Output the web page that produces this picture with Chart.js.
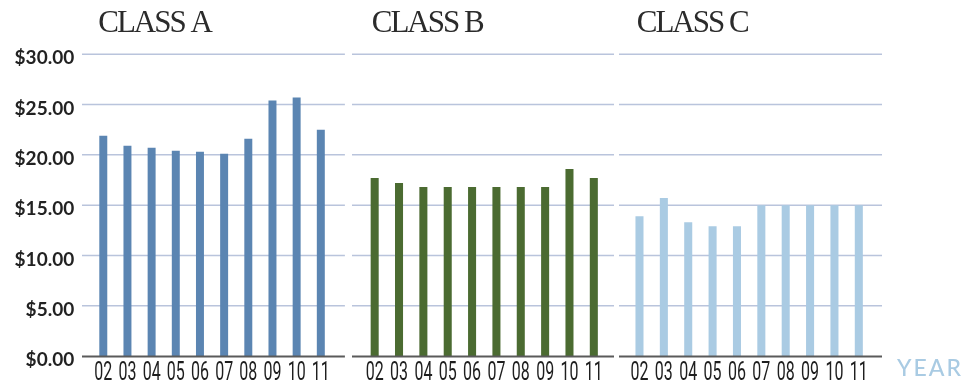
<!DOCTYPE html>
<html>
<head>
<meta charset="utf-8">
<script src="https://cdn.jsdelivr.net/npm/chart.js@4/dist/chart.umd.min.js"></script>
<style>
  html, body { margin: 0; padding: 0; background: #ffffff; }
  #wrap { position: relative; width: 965px; height: 385px; overflow: hidden; }
  #wrap canvas { position: absolute; top: 0; }
</style>
</head>
<body>
<div id="wrap">
  <canvas id="panelA" width="350" height="385" style="left:0px"></canvas>
  <canvas id="panelB" width="272" height="385" style="left:348px"></canvas>
  <canvas id="panelC" width="349" height="385" style="left:616px"></canvas>
</div>
<script>
// Average price per year, by class
const years = ['02', '03', '04', '05', '06', '07', '08', '09', '10', '11'];
const classA = [21.9, 20.9, 20.7, 20.4, 20.3, 20.1, 21.6, 25.4, 25.7, 22.5];
const classB = [17.7, 17.2, 16.8, 16.8, 16.8, 16.8, 16.8, 16.8, 18.6, 17.7];
const classC = [13.9, 15.7, 13.3, 12.9, 12.9, 15.0, 15.0, 15.0, 15.0, 15.0];
const priceTicks = [0, 5, 10, 15, 20, 25, 30];
const panelTitles = ['CLASS A', 'CLASS B', 'CLASS C'];
const xAxisCaption = 'YEAR';

// Horizontal rules reach a little past the bars on each side
const panelGrid = {
  id: 'panelGrid',
  beforeDatasetsDraw(chart, args, opts) {
    const { ctx, chartArea: a, scales: { y } } = chart;
    const x0 = a.left - opts.extendLeft, x1 = a.right + opts.extendRight;
    ctx.save();
    ctx.lineWidth = 1.5;
    ctx.strokeStyle = '#b9c4dc';
    priceTicks.forEach(v => {
      if (v === 0) return;
      const py = y.getPixelForValue(v);
      ctx.beginPath(); ctx.moveTo(x0, py); ctx.lineTo(x1, py); ctx.stroke();
    });
    ctx.restore();
  },
  afterDatasetsDraw(chart, args, opts) {
    const { ctx, chartArea: a, scales: { y } } = chart;
    const py = y.getPixelForValue(0) + 0.5;
    ctx.save();
    ctx.lineWidth = 2;
    ctx.strokeStyle = '#5a5a5a';
    ctx.beginPath();
    ctx.moveTo(a.left - opts.extendLeft, py);
    ctx.lineTo(a.right + opts.extendRight, py);
    ctx.stroke();
    ctx.restore();
  }
};

// Year labels set in a narrow face, centred under each bar
const yearLabels = {
  id: 'yearLabels',
  afterDraw(chart) {
    const { ctx, chartArea: a, scales: { x } } = chart;
    ctx.save();
    ctx.fillStyle = '#1e1e1e';
    ctx.font = '25px Roboto, "DejaVu Sans", sans-serif';
    ctx.textAlign = 'center';
    ctx.textBaseline = 'alphabetic';
    x.ticks.forEach((t, i) => {
      const px = x.getPixelForTick(i);
      ctx.save();
      ctx.translate(px, a.bottom + 23.5);
      ctx.scale(0.64, 1);
      ctx.fillText(x.getLabelForValue(t.value), 0, 0);
      ctx.restore();
    });
    ctx.restore();
  }
};

// Panel heading above the plot, plus the optional axis caption
const panelTitle = {
  id: 'panelTitle',
  afterDraw(chart, args, opts) {
    const { ctx, chartArea: a } = chart;
    ctx.save();
    ctx.fillStyle = '#2b2b2b';
    ctx.font = '31px "Liberation Serif", "DejaVu Serif", serif';
    ctx.letterSpacing = '-2px';
    ctx.textAlign = 'left';
    ctx.textBaseline = 'alphabetic';
    ctx.fillText(opts.text, a.left + opts.offset, a.top - 22);
    if (opts.caption) {
      ctx.fillStyle = '#a9cbe3';
      ctx.font = '500 23px Lato, "Open Sans", sans-serif';
      ctx.letterSpacing = '2px';
      ctx.fillText(opts.caption, a.right + 26, a.bottom + 19.5);
    }
    ctx.restore();
  }
};

function makePanel(id, values, color, cfg) {
  return new Chart(document.getElementById(id), {
    type: 'bar',
    data: {
      labels: years,
      datasets: [{
        data: values,
        backgroundColor: color,
        borderWidth: 0,
        categoryPercentage: 1,
        barPercentage: 0.33
      }]
    },
    options: {
      responsive: false,
      animation: false,
      devicePixelRatio: 1,
      layout: { padding: { top: 54.3, bottom: 0, left: cfg.padLeft, right: cfg.padRight } },
      plugins: {
        legend: { display: false },
        tooltip: { enabled: false },
        title: { display: false },
        panelGrid: { extendLeft: cfg.extL, extendRight: cfg.extR },
        panelTitle: { text: cfg.title, offset: cfg.titleOffset, caption: cfg.caption }
      },
      scales: {
        x: {
          offset: true,
          grid: { display: false },
          border: { display: false },
          ticks: { display: false, autoSkip: false },
          afterFit(scale) { scale.height = 29; }
        },
        y: {
          display: cfg.showY,
          min: 0,
          max: 30,
          grid: { display: false, drawTicks: false },
          border: { display: false },
          ticks: {
            stepSize: 5,
            padding: 17,
            labelOffset: 4,
            color: '#222222',
            font: { family: 'Lato, "Open Sans", sans-serif', size: 19, weight: 'bold' },
            callback: v => '$' + Number(v).toFixed(2)
          },
          afterFit(scale) { if (cfg.showY) scale.width = cfg.yWidth; }
        }
      }
    },
    plugins: [panelGrid, yearLabels, panelTitle]
  });
}

makePanel('panelA', classA, '#5b85b2', {
  showY: true, yWidth: 91.2, padLeft: 0, padRight: 17.1,
  extL: 9.2, extR: 12, title: panelTitles[0], titleOffset: 7
});
makePanel('panelB', classB, '#4b6b31', {
  showY: false, padLeft: 14.5, padRight: 14,
  extL: 10.5, extR: 8, title: panelTitles[1], titleOffset: 9.2
});
makePanel('panelC', classC, '#aacbe3', {
  showY: false, padLeft: 11.3, padRight: 94,
  extL: 8.3, extR: 11, title: panelTitles[2], titleOffset: 9.4, caption: xAxisCaption
});
</script>
</body>
</html>
